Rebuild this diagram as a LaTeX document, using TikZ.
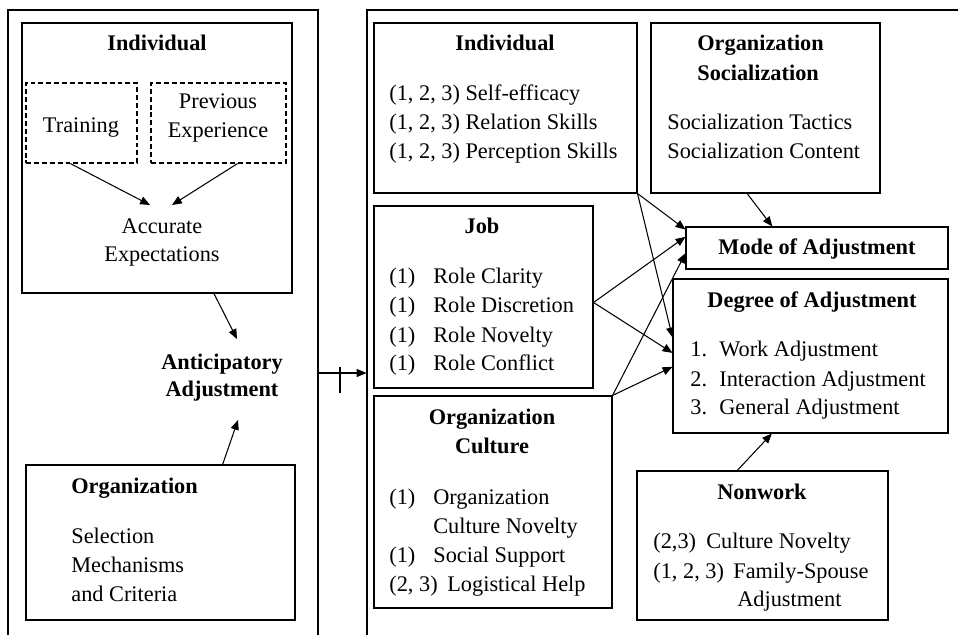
\documentclass[tikz,border=0pt]{standalone}
\usepackage{fontspec}
\setmainfont{Liberation Serif}
\usetikzlibrary{arrows.meta, positioning, calc, fit}

\newcommand{\diagfont}{\fontsize{12.7}{16.4}\selectfont}
\tikzset{
  box/.style={draw, line width=0.6pt, inner sep=0pt},
  dbox/.style={box, dash pattern=on 2.8pt off 1.7pt},
  ttl/.style={anchor=base, inner sep=0pt, font=\diagfont\bfseries},
  lbl/.style={anchor=base, inner sep=0pt},
  itm/.style={anchor=base west, inner sep=0pt},
  arr/.style={-{Triangle[length=5.6pt, width=4.6pt]}, line width=0.6pt},
}

\begin{document}
\begin{tikzpicture}[x=0.02cm, y=-0.02cm, font=\diagfont]
  \useasboundingbox (0,0) rectangle (958,635);
  \clip (0,0) rectangle (958,635);

  % the two big panels run off the page
  \node[box, fit={(8,10) (318,700)}] (left) {};
  \node[box, fit={(367,10) (1000,700)}] (right) {};

  % anticipatory side
  \node[box, fit={(22,23) (292,293)}] (indL) {};
  \node[ttl] (indL-t) at (157,51) {Individual};
  \node[dbox, fit={(26,83) (137,163)}] (train) {};
  \node[dbox, fit={(151,83) (286,163)}] (prev) {};
  \node[lbl] (train-t) at (81,133) {Training};
  \node[lbl] (prev-1) at (218,109) {Previous};
  \node[lbl] (prev-2) at (218,138) {Experience};
  \node[lbl] (acc-1) at (162,234) {Accurate};
  \node[lbl] (acc-2) at (162,262) {Expectations};
  \node[ttl] (antic-1) at (222,369) {Anticipatory};
  \node[ttl] (antic-2) at (222,397) {Adjustment};
  \node[box, fit={(26,465) (295,620)}] (orgL) {};
  \node[ttl, anchor=base west] (orgL-t) at (71,493) {Organization};
  \foreach \i/\t/\y in {1/Selection/543, 2/Mechanisms/572, 3/and Criteria/601}
    \node[itm] (orgL-\i) at (71,\y) {\t};

  \coordinate (acc-a) at (150,205);
  \coordinate (acc-b) at (172,205);
  \coordinate (antic-a) at (237,339);
  \coordinate (antic-b) at (238,420);
  \draw[arr] ($(train.south west)!.4!(train.south east)$) -- (acc-a);
  \draw[arr] ($(prev.south west)!.64!(prev.south east)$) -- (acc-b);
  \draw[arr] ($(indL.south west)!.71!(indL.south east)$) -- (antic-a);
  \draw[arr] ($(orgL.north west)!.73!(orgL.north east)$) -- (antic-b);

  % link between the panels
  \coordinate (link) at (340,373);
  \draw[arr] (left.east |- link) -- (right.west |- link);
  \draw[line width=1.4pt] (link) ++(0,-6) -- ++(0,26);

  % antecedents
  \node[box, fit={(374,23) (637,193)}] (indR) {};
  \node[ttl] (indR-t) at (505,51) {Individual};
  \foreach \i/\t/\y in {1/Self-efficacy/101, 2/Relation Skills/130, 3/Perception Skills/159}
    \node[itm] (indR-\i) at (389,\y) {(1, 2, 3) \t};

  \node[box, fit={(651,23) (880,193)}] (osoc) {};
  \node[ttl, anchor=base west] (osoc-t1) at (697,51) {Organization};
  \node[ttl, anchor=base west] (osoc-t2) at (697,81) {Socialization};
  \node[itm] (osoc-1) at (667,130) {Socialization Tactics};
  \node[itm] (osoc-2) at (667,159) {Socialization Content};

  \node[box, fit={(374,206) (593,388)}] (job) {};
  \node[ttl] (job-t) at (482,234) {Job};
  \foreach \i/\t/\y in {1/Role Clarity/284, 2/Role Discretion/313, 3/Role Novelty/342, 4/Role Conflict/371} {
    \node[itm] (job-n\i) at (389,\y) {(1)};
    \node[itm] (job-\i) at (433,\y) {\t};
  }

  \node[box, fit={(374,396) (612,608)}] (cult) {};
  \node[ttl] (cult-t1) at (492,424) {Organization};
  \node[ttl] (cult-t2) at (492,453) {Culture};
  % tag / x of text / text / baseline
  \foreach \i/\n/\x/\t/\y in {1/(1)/433/Organization/504, 2//433/Culture Novelty/533,
      3/(1)/433/Social Support/562, 4/{(2, 3)}/447/Logistical Help/591} {
    \node[itm] (cult-n\i) at (389,\y) {\n};
    \node[itm] (cult-\i) at (\x,\y) {\t};
  }

  % outcomes
  \node[box, fit={(686,227) (948,269)}] (mode) {};
  \node[ttl] (mode-t) at (817,255) {Mode of Adjustment};
  \node[box, fit={(673,279) (948,433)}] (deg) {};
  \node[ttl] (deg-t) at (812,308) {Degree of Adjustment};
  \foreach \i/\t/\y in {1/Work Adjustment/357, 2/Interaction Adjustment/386, 3/General Adjustment/415} {
    \node[itm] (deg-n\i) at (690,\y) {\i.};
    \node[itm] (deg-\i) at (719,\y) {\t};
  }

  \node[box, fit={(637,471) (888,620)}] (nonw) {};
  \node[ttl] (nonw-t) at (762,499) {Nonwork};
  \node[itm] (nonw-n1) at (653,548) {(2,3)};
  \node[itm] (nonw-1) at (706,548) {Culture Novelty};
  \node[itm] (nonw-n2) at (653,578) {(1, 2, 3)};
  \node[itm] (nonw-2) at (733,578) {Family-Spouse};
  \node[itm] (nonw-3) at (737,606) {Adjustment};

  \draw[arr] (indR.south east) -- ($(mode.north west)!.07!(mode.south west)$);
  \draw[arr] (indR.south east) -- ($(deg.north west)!.38!(deg.south west)$);
  \draw[arr] ($(job.north east)!.53!(job.south east)$) -- ($(mode.north west)!.24!(mode.south west)$);
  \draw[arr] ($(job.north east)!.53!(job.south east)$) -- ($(deg.north west)!.48!(deg.south west)$);
  \draw[arr] (cult.north east) -- ($(mode.north west)!.62!(mode.south west)$);
  \draw[arr] (cult.north east) -- ($(deg.north west)!.57!(deg.south west)$);
  \draw[arr] ($(osoc.south west)!.42!(osoc.south east)$) -- ($(mode.north west)!.33!(mode.north east)$);
  \draw[arr] ($(nonw.north west)!.40!(nonw.north east)$) -- ($(deg.south west)!.36!(deg.south east)$);
\end{tikzpicture}
\end{document}
